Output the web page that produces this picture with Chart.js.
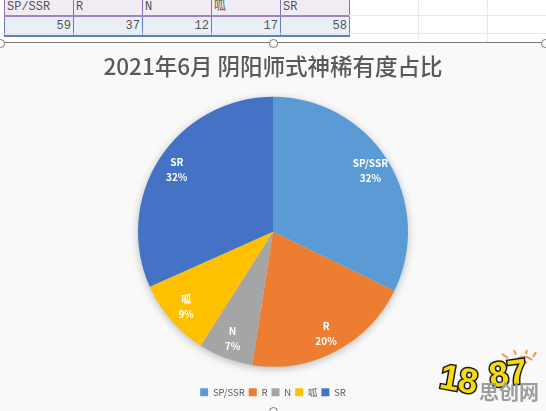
<!DOCTYPE html>
<html>
<head>
<meta charset="utf-8">
<script src="https://cdn.jsdelivr.net/npm/chart.js@4"></script>
<style>
html, body { margin: 0; padding: 0; background: #fff; overflow: hidden; }
body { width: 546px; height: 411px; position: relative; font-family: "Noto Sans CJK SC", sans-serif; }
#sheet { position: absolute; left: 4px; top: 0; border-collapse: collapse; table-layout: fixed; font: 12px "Liberation Mono", "Noto Sans CJK SC", monospace; color: #555; }
#sheet td { width: 69px; padding: 0 2px; box-sizing: border-box; overflow: hidden; white-space: nowrap; }
#heads td { height: 15px; line-height: 15px; background: #f1ecf4; border-left: 1px solid #8e6bb8; border-right: 1px solid #8e6bb8; border-bottom: 2px solid #a184c4; }
#vals td { height: 18px; line-height: 18px; text-align: right; background: #eaeff7; border-left: 1px solid #5f7fc0; border-right: 1px solid #5f7fc0; border-bottom: 2px solid #5f7fc0; }
.grid { position: absolute; background: #e8e8e8; }
#frame { position: absolute; left: 0; top: 42px; width: 546px; height: 369px; background: #f9f9f9; border-top: 1px solid #777; box-sizing: border-box; }
#chartBox { position: absolute; left: 0; top: 43px; width: 546px; height: 368px; }
.handle { position: absolute; width: 7px; height: 7px; border: 1px solid #777; border-radius: 50%; background: #fff; }
#logo { position: absolute; left: 430px; top: 350px; width: 116px; height: 61px; }
#logo svg { position: absolute; left: 0; top: 0; }
.num { position: absolute; font: 900 35px "Liberation Sans", sans-serif; color: #f6d90f; letter-spacing: -1px; -webkit-text-stroke: 3px #1a1a1a; paint-order: stroke fill; }
#logoCn { position: absolute; left: 49px; top: 27px; font: 700 20px/30px "Noto Sans CJK SC", sans-serif; color: #9d9d9d; }
</style>
</head>
<body>
<table id="sheet"><tr id="heads"></tr><tr id="vals"></tr></table>
<div class="grid" style="left:418px;top:0;width:1px;height:42px"></div>
<div class="grid" style="left:487px;top:0;width:1px;height:42px"></div>
<div class="grid" style="left:349px;top:15px;width:197px;height:1px"></div>
<div class="grid" style="left:0;top:33px;width:546px;height:1px"></div>
<div id="frame"></div>
<div id="chartBox"><canvas id="pieChart"></canvas></div>
<div class="handle" style="left:-4px;top:39px"></div>
<div class="handle" style="left:269px;top:39px"></div>
<div class="handle" style="left:541px;top:39px"></div>
<div class="handle" style="left:269px;top:407px"></div>
<div id="logo">
<svg width="116" height="61"><g fill="none" stroke="#ec9a4a" stroke-width="2"><path d="M82 14a13 13 0 0 1 20 -4"/><path d="M87 15a7 7 0 0 1 10 -2"/><path d="M72 4l6 4M84 0l2 5M97 0l-1 4M106 2l-3 5"/></g></svg>
<span class="num" style="left:10px;top:9px;transform:rotate(10deg)">18</span>
<span class="num" style="left:59px;top:3px;transform:rotate(-8deg)">87</span>
<span id="logoCn">思创网</span>
</div>
<script>
const categories = ['SP/SSR', 'R', 'N', '呱', 'SR'];
const values = [59, 37, 12, 17, 58];
const colors = ['#5b9bd5', '#ed7d31', '#a5a5a5', '#ffc000', '#4472c4'];
const chartTitle = '2021年6月 阴阳师式神稀有度占比';

categories.forEach((name, i) => {
    const th = document.createElement('td');
    th.textContent = name;
    document.getElementById('heads').appendChild(th);
    const td = document.createElement('td');
    td.textContent = values[i];
    document.getElementById('vals').appendChild(td);
});

// labels inside the slices, name over percent
const sliceLabels = {
    id: 'sliceLabels',
    afterDatasetsDraw(chart) {
        const ctx = chart.ctx;
        const total = values.reduce((sum, v) => sum + v, 0);
        ctx.save();
        ctx.fillStyle = '#fff';
        ctx.textAlign = 'center';
        ctx.textBaseline = 'middle';
        ctx.font = '600 10px "Noto Sans CJK SC", sans-serif';
        chart.getDatasetMeta(0).data.forEach((arc, i) => {
            const mid = (arc.startAngle + arc.endAngle) / 2;
            const x = arc.x + Math.cos(mid) * arc.outerRadius * 0.85;
            const y = arc.y + Math.sin(mid) * arc.outerRadius * 0.85;
            ctx.fillText(categories[i], x, y - 7.5);
            ctx.fillText(Math.round(values[i] / total * 100) + '%', x, y + 7.5);
        });
        ctx.restore();
    }
};

// soft shadow under the pie
const pieShadow = {
    id: 'pieShadow',
    beforeDatasetsDraw(chart) {
        const arc = chart.getDatasetMeta(0).data[0];
        const ctx = chart.ctx;
        ctx.save();
        ctx.shadowColor = 'rgba(0,0,0,0.3)';
        ctx.shadowBlur = 10;
        ctx.shadowOffsetY = 2;
        ctx.fillStyle = '#ddd';
        ctx.beginPath();
        ctx.arc(arc.x, arc.y, arc.outerRadius - 1, 0, Math.PI * 2);
        ctx.fill();
        ctx.restore();
    }
};

new Chart(document.getElementById('pieChart').getContext('2d'), {
    type: 'pie',
    data: {
        labels: categories,
        datasets: [{
            data: values,
            backgroundColor: colors,
            borderWidth: 0,
            radius: 135
        }]
    },
    options: {
        responsive: true,
        maintainAspectRatio: false,
        animation: false,
        layout: { padding: { top: 10, bottom: 4 } },
        plugins: {
            title: {
                display: true,
                text: chartTitle,
                color: '#595959',
                font: { family: '"Noto Sans CJK SC", sans-serif', size: 22.5, weight: '500' },
                padding: { top: 0, bottom: 0 }
            },
            legend: {
                position: 'bottom',
                labels: {
                    boxWidth: 8,
                    boxHeight: 8,
                    padding: 4,
                    color: '#595959',
                    font: { family: '"Noto Sans CJK SC", sans-serif', size: 9.5 }
                }
            },
            tooltip: { enabled: false }
        }
    },
    plugins: [pieShadow, sliceLabels]
});
</script>
</body>
</html>
